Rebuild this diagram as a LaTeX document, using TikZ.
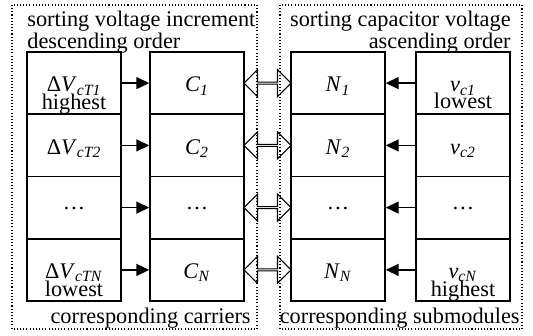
\documentclass[tikz,border=0pt]{standalone}
\usepackage{fontspec}
\setmainfont{Liberation Serif}
\usepackage{tikz}
\usetikzlibrary{positioning, shapes, arrows.meta, calc}

\begin{document}
\begin{tikzpicture}[x=0.02cm, y=-0.02cm,
    every node/.style={font=\fontsize{12.7}{10}\selectfont},
    cell/.style={draw, line width=0.85pt, minimum width=1.88cm, minimum height=1.245cm, inner sep=0pt, text height=10pt, text depth=0pt},
    dotcell/.style={cell, text height=2.5pt},
    note/.style={inner sep=0pt, anchor=base},
    sarrow/.style={-{Triangle[length=0.26cm, width=0.24cm]}, line width=0.85pt},
    dblarr/.style={draw, line width=0.6pt, double arrow, double arrow tip angle=90, double arrow head extend=0.13cm, minimum height=0.94cm, minimum width=0.54cm, inner sep=0pt},
    dotbox/.style={line width=0.6pt, dash pattern=on 0.6pt off 1.2pt}]
        \useasboundingbox (0,0) rectangle (533,335);

        % Voltage increment column
        \node[cell] (dv1) at (74,83.1) {Δ\textit{V}\textsubscript{\textit{cT1}}};
        \node[cell] (dv2) at (74,145.4) {Δ\textit{V}\textsubscript{\textit{cT2}}};
        \node[dotcell] (dv3) at (74,207.6) {…};
        \node[cell] (dv4) at (74,269.9) {Δ\textit{V}\textsubscript{\textit{cTN}}};
        \node[note] (dvhi) at ($(dv1.center)+(0,26.5)$) {highest};
        \node[note] (dvlo) at ($(dv4.center)+(0,27)$) {lowest};

        % Carrier column
        \node[cell] (c1) at (197,83.1) {\textit{C}\textsubscript{\textit{1}}};
        \node[cell] (c2) at (197,145.4) {\textit{C}\textsubscript{\textit{2}}};
        \node[dotcell] (c3) at (197,207.6) {…};
        \node[cell] (c4) at (197,269.9) {\textit{C}\textsubscript{\textit{N}}};

        % Submodule column
        \node[cell] (n1) at (338,83.1) {\textit{N}\textsubscript{\textit{1}}};
        \node[cell] (n2) at (338,145.4) {\textit{N}\textsubscript{\textit{2}}};
        \node[dotcell] (n3) at (338,207.6) {…};
        \node[cell] (n4) at (338,269.9) {\textit{N}\textsubscript{\textit{N}}};

        % Capacitor voltage column
        \node[cell] (vc1) at (463,83.1) {\textit{v}\textsubscript{\textit{c1}}};
        \node[cell] (vc2) at (463,145.4) {\textit{v}\textsubscript{\textit{c2}}};
        \node[dotcell] (vc3) at (463,207.6) {…};
        \node[cell] (vc4) at (463,269.9) {\textit{v}\textsubscript{\textit{cN}}};
        \node[note] (vclo) at ($(vc1.center)+(0,25.5)$) {lowest};
        \node[note] (vchi) at ($(vc4.center)+(0,27)$) {highest};

        % Arrows
        \draw[sarrow] (dv1) -- (c1);
        \draw[sarrow] (dv2) -- (c2);
        \draw[sarrow] (dv3) -- (c3);
        \draw[sarrow] (dv4) -- (c4);
        \draw[sarrow] (vc1) -- (n1);
        \draw[sarrow] (vc2) -- (n2);
        \draw[sarrow] (vc3) -- (n3);
        \draw[sarrow] (vc4) -- (n4);

        \node[dblarr] (x1) at ($(c1.east)!0.5!(n1.west)$) {};
        \node[dblarr] (x2) at ($(c2.east)!0.5!(n2.west)$) {};
        \node[dblarr] (x3) at ($(c3.east)!0.5!(n3.west)$) {};
        \node[dblarr] (x4) at ($(c4.east)!0.5!(n4.west)$) {};

        % Dotted groups
        \draw[dotbox] (12,5) rectangle (257,329);
        \draw[dotbox] (280,5) rectangle (522,329);
        \node[inner sep=0pt, anchor=north west, align=left] (lefttitle) at (27,11) {sorting voltage increment\\descending order};
        \node[inner sep=0pt, anchor=north east, align=right] (righttitle) at (511,11) {sorting capacitor voltage\\ascending order};
        \node[note, anchor=base east] (carriers) at (251,323) {corresponding carriers};
        \node[note, anchor=base east] (submods) at (520,323) {corresponding submodules};
      \end{tikzpicture}
\end{document}
